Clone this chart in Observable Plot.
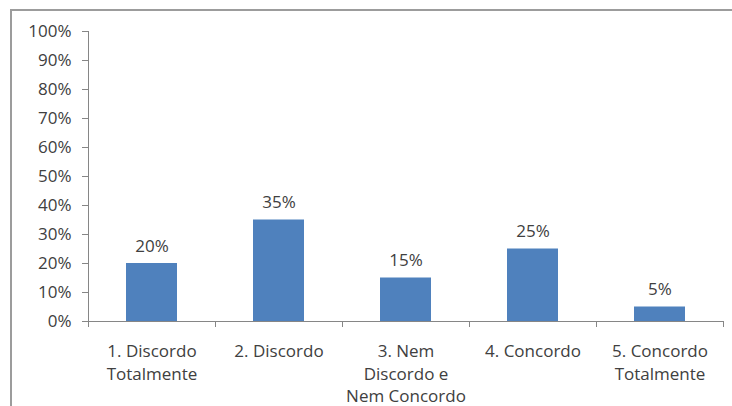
<!DOCTYPE html>
<html>
<head>
<meta charset="utf-8">
<script src="https://cdn.jsdelivr.net/npm/d3@7"></script>
<script src="https://cdn.jsdelivr.net/npm/@observablehq/plot@0.6"></script>
<style>
  html, body { margin: 0; padding: 0; background: #ffffff; }
  #wrap { position: relative; width: 732px; height: 406px; overflow: hidden; }
  #frame { position: absolute; left: 10px; top: 9px; width: 800px; height: 500px;
           border-left: 2px solid #9c9c9c; border-top: 2px solid #9c9c9c; box-sizing: border-box; }
  #chart { position: absolute; left: 0; top: 0; }
</style>
</head>
<body>
<div id="wrap"><div id="frame"></div><div id="chart"></div></div>
<script>
const categories = ["1. Discordo\nTotalmente", "2. Discordo", "3. Nem\nDiscordo e\nNem Concordo", "4. Concordo", "5. Concordo\nTotalmente"];
const values = [20, 35, 15, 25, 5];
const yTicks = [0, 10, 20, 30, 40, 50, 60, 70, 80, 90, 100];
const xBoundaries = [0, 1, 2, 3, 4, 5];

const data = categories.map((c, i) => ({c, i, v: values[i]}));

const chart = Plot.plot({
  width: 732,
  height: 406,
  marginLeft: 88,
  marginRight: 9,
  marginTop: 31,
  marginBottom: 85,
  style: {fontFamily: "'Open Sans', sans-serif", fontSize: "17px", color: "#404040", background: "transparent"},
  x: {type: "linear", domain: [0, categories.length], axis: null, label: null},
  y: {domain: [0, 100], axis: null, label: null},
  marks: [
    Plot.rectY(data, {x1: "i", x2: d => d.i + 1, y: "v", insetLeft: 38, insetRight: 38, fill: "#4f81bd"}),
    Plot.ruleX([0], {stroke: "#868686", strokeWidth: 1}),
    Plot.ruleY([0], {stroke: "#868686", strokeWidth: 1}),
    Plot.axisY({ticks: yTicks, tickSize: 6, tickPadding: 11, tickFormat: d => d + "%", label: null, stroke: "#868686", fill: "#404040", fontSize: 17}),
    Plot.axisX({ticks: xBoundaries, tickSize: 6, tickFormat: () => "", label: null, stroke: "#868686"}),
    Plot.text(data, {x: d => d.i + 0.5, y: 0, text: "c", dy: 20, lineAnchor: "top", lineHeight: 1.32, fill: "#404040", fontSize: 17}),
    Plot.text(data, {x: d => d.i + 0.5, y: "v", text: d => d.v + "%", dy: -12, lineAnchor: "bottom", fill: "#404040", fontSize: 17})
  ]
});
document.getElementById("chart").appendChild(chart);
</script>
</body>
</html>
